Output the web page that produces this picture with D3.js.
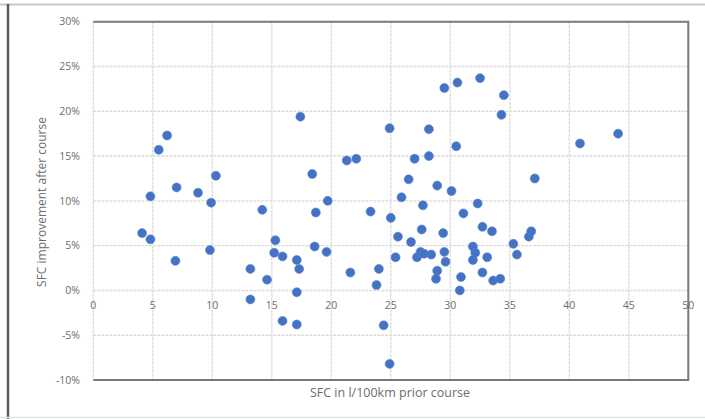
<!DOCTYPE html>
<html>
<head>
<meta charset="utf-8">
<script src="https://cdn.jsdelivr.net/npm/d3@7/dist/d3.min.js"></script>
<style>
  html, body { margin: 0; padding: 0; background: #fff; }
  svg { display: block; }
  text { font-family: "Open Sans", "Liberation Sans", sans-serif; fill: #6e6e6e; }
</style>
</head>
<body>
<svg id="chart" width="705" height="419"></svg>
<script>
// SFC prior course (l/100km)
const sfcPrior = [
  4.1, 4.8, 4.8, 5.5, 6.2, 7.0, 6.9, 8.8, 9.9, 10.3, 9.8, 13.2, 13.2, 14.2, 14.6,
  15.3, 15.2, 15.9, 15.9, 17.1, 17.1, 17.1, 17.3, 17.4, 18.4, 18.7, 18.6, 19.6, 19.7,
  21.3, 22.1, 21.6, 23.3, 23.8, 24.0, 24.4, 24.9, 24.9, 25.0, 25.4, 25.6, 25.9, 26.5,
  26.7, 27.0, 27.2, 27.5, 27.6, 27.7, 27.8, 28.2, 28.2, 28.4, 28.9, 28.9, 28.8, 29.4,
  29.5, 29.5, 29.6, 30.1, 30.5, 30.6, 30.8, 30.9, 31.1, 31.9, 32.1, 31.9, 32.3, 32.5,
  32.7, 32.7, 33.1, 33.5, 33.6, 34.2, 34.3, 34.5, 35.3, 35.6, 36.6, 36.8, 37.1, 40.9, 44.1
];
// SFC improvement after course (%)
const sfcImprovement = [
  6.4, 10.5, 5.7, 15.7, 17.3, 11.5, 3.3, 10.9, 9.8, 12.8, 4.5, 2.4, -1.0, 9.0, 1.2,
  5.6, 4.2, 3.8, -3.4, 3.4, -0.2, -3.8, 2.4, 19.4, 13.0, 8.7, 4.9, 4.3, 10.0,
  14.5, 14.7, 2.0, 8.8, 0.6, 2.4, -3.9, -8.2, 18.1, 8.1, 3.7, 6.0, 10.4, 12.4,
  5.4, 14.7, 3.7, 4.3, 6.8, 9.5, 4.1, 18.0, 15.0, 4.0, 11.7, 2.2, 1.3, 6.4,
  4.3, 22.6, 3.2, 11.1, 16.1, 23.2, 0.0, 1.5, 8.6, 4.9, 4.2, 3.4, 9.7, 23.7,
  7.1, 2.0, 3.7, 6.6, 1.1, 1.3, 19.6, 21.8, 5.2, 4.0, 6.0, 6.6, 12.5, 16.4, 17.5
];
const xTicks = [0, 5, 10, 15, 20, 25, 30, 35, 40, 45, 50];
const yTicks = [-10, -5, 0, 5, 10, 15, 20, 25, 30];
const xTitle = "SFC in l/100km prior course";
const yTitle = "SFC improvement after course";

(function () {
const svg = d3.select("#chart");
const pL = 93.3, pR = 688.3, pT = 21.7, pB = 380;
const x = d3.scaleLinear().domain([0, 50]).range([pL, pR]);
const y = d3.scaleLinear().domain([-10, 30]).range([pB, pT]);

// outer frame
svg.append("line").attr("x1", 0).attr("x2", 705).attr("y1", 4.5).attr("y2", 4.5)
  .attr("stroke", "#c8c8c8").attr("stroke-width", 2);
svg.append("line").attr("x1", 8).attr("x2", 8).attr("y1", 4).attr("y2", 419)
  .attr("stroke", "#5a5a5a").attr("stroke-width", 2.5);
svg.append("line").attr("x1", 0).attr("x2", 705).attr("y1", 417.5).attr("y2", 417.5)
  .attr("stroke", "#dde3e3").attr("stroke-width", 1.5);

// gridlines
const grid = svg.append("g");
grid.selectAll(".gy").data(yTicks).enter().append("line")
  .attr("x1", pL).attr("x2", pR)
  .attr("y1", d => y(d)).attr("y2", d => y(d))
  .attr("stroke", "#dcdcdc").attr("stroke-width", 1.4).attr("stroke-dasharray", "3,1");
grid.selectAll(".gx").data(xTicks).enter().append("line")
  .attr("x1", d => x(d)).attr("x2", d => x(d))
  .attr("y1", pT).attr("y2", pB)
  .attr("stroke", "#dcdcdc").attr("stroke-width", 1.4).attr("stroke-dasharray", "3,1");

// plot border (top, right, bottom)
svg.append("path")
  .attr("d", `M${pL},${pT}H${pR}V${pB}H${pL}`)
  .attr("fill", "none").attr("stroke", "#7a7a7a").attr("stroke-width", 2);

// y tick labels
svg.append("g").selectAll("text").data(yTicks).enter().append("text")
  .attr("x", 80).attr("y", d => y(d)).attr("dy", "0.35em")
  .attr("text-anchor", "end").attr("font-size", 10.5)
  .text(d => d + "%");

// x tick labels (at zero line)
svg.append("g").selectAll("text").data(xTicks).enter().append("text")
  .attr("x", d => x(d)).attr("y", y(0) + 19)
  .attr("text-anchor", "middle").attr("font-size", 10.5)
  .text(d => d);

// axis titles
svg.append("text").attr("x", 390).attr("y", 397)
  .attr("text-anchor", "middle").attr("font-size", 12.5)
  .text(xTitle);
svg.append("text")
  .attr("transform", `translate(46,202) rotate(-90)`)
  .attr("text-anchor", "middle").attr("font-size", 12)
  .text(yTitle);

// points
const pts = sfcPrior.map((v, i) => ({ x: v, y: sfcImprovement[i] }));
svg.append("g").selectAll("circle").data(pts).enter().append("circle")
  .attr("cx", d => x(d.x)).attr("cy", d => y(d.y)).attr("r", 4.5)
  .attr("fill", "#4472C4").attr("stroke", "#5b83c9").attr("stroke-width", 0.6);
})();
</script>
</body>
</html>
